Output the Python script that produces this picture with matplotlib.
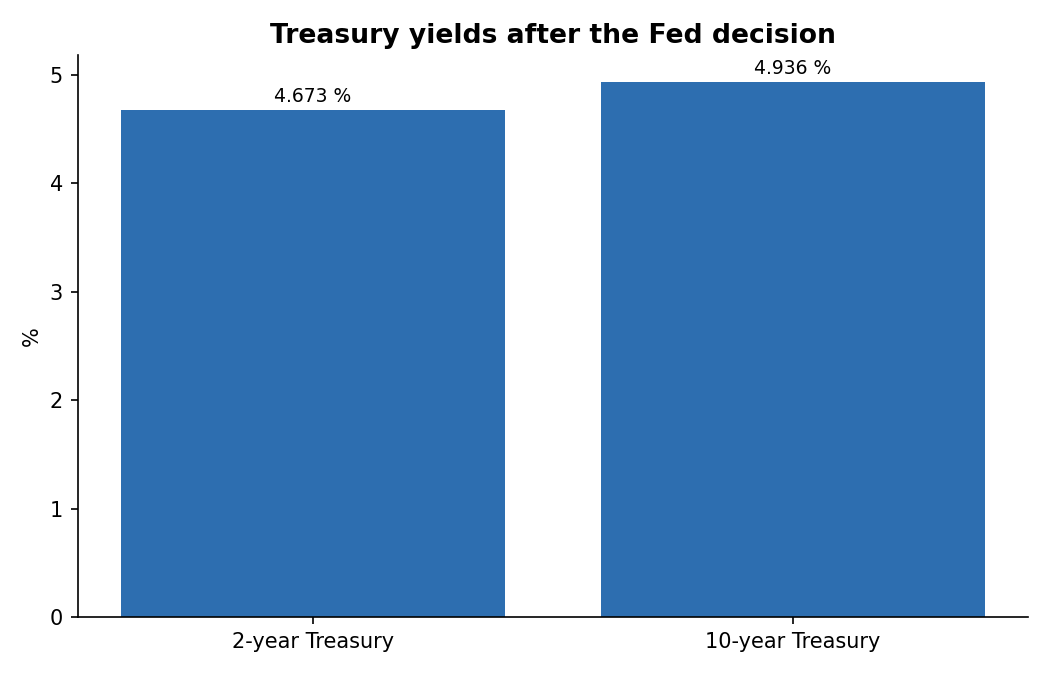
import matplotlib
matplotlib.use("Agg")
import matplotlib.pyplot as plt

categories = ["2-year Treasury", "10-year Treasury"]
yields = [4.673, 4.936]
bar_color = "#2d6eb0"

fig, ax = plt.subplots(figsize=(7, 4.5), dpi=150)
fig.subplots_adjust(left=0.074, right=0.979, top=0.9185, bottom=0.086)
bars = ax.bar(categories, yields, color=bar_color, width=0.8)
ax.bar_label(bars, labels=[f"{v:.3f} %" for v in yields], padding=2, fontsize=9)
ax.set_ylabel("%")
ax.set_title("Treasury yields after the Fed decision", fontsize=12.8, fontweight="bold")
ax.spines["top"].set_visible(False)
ax.spines["right"].set_visible(False)
fig.savefig("out.png", dpi=150)
